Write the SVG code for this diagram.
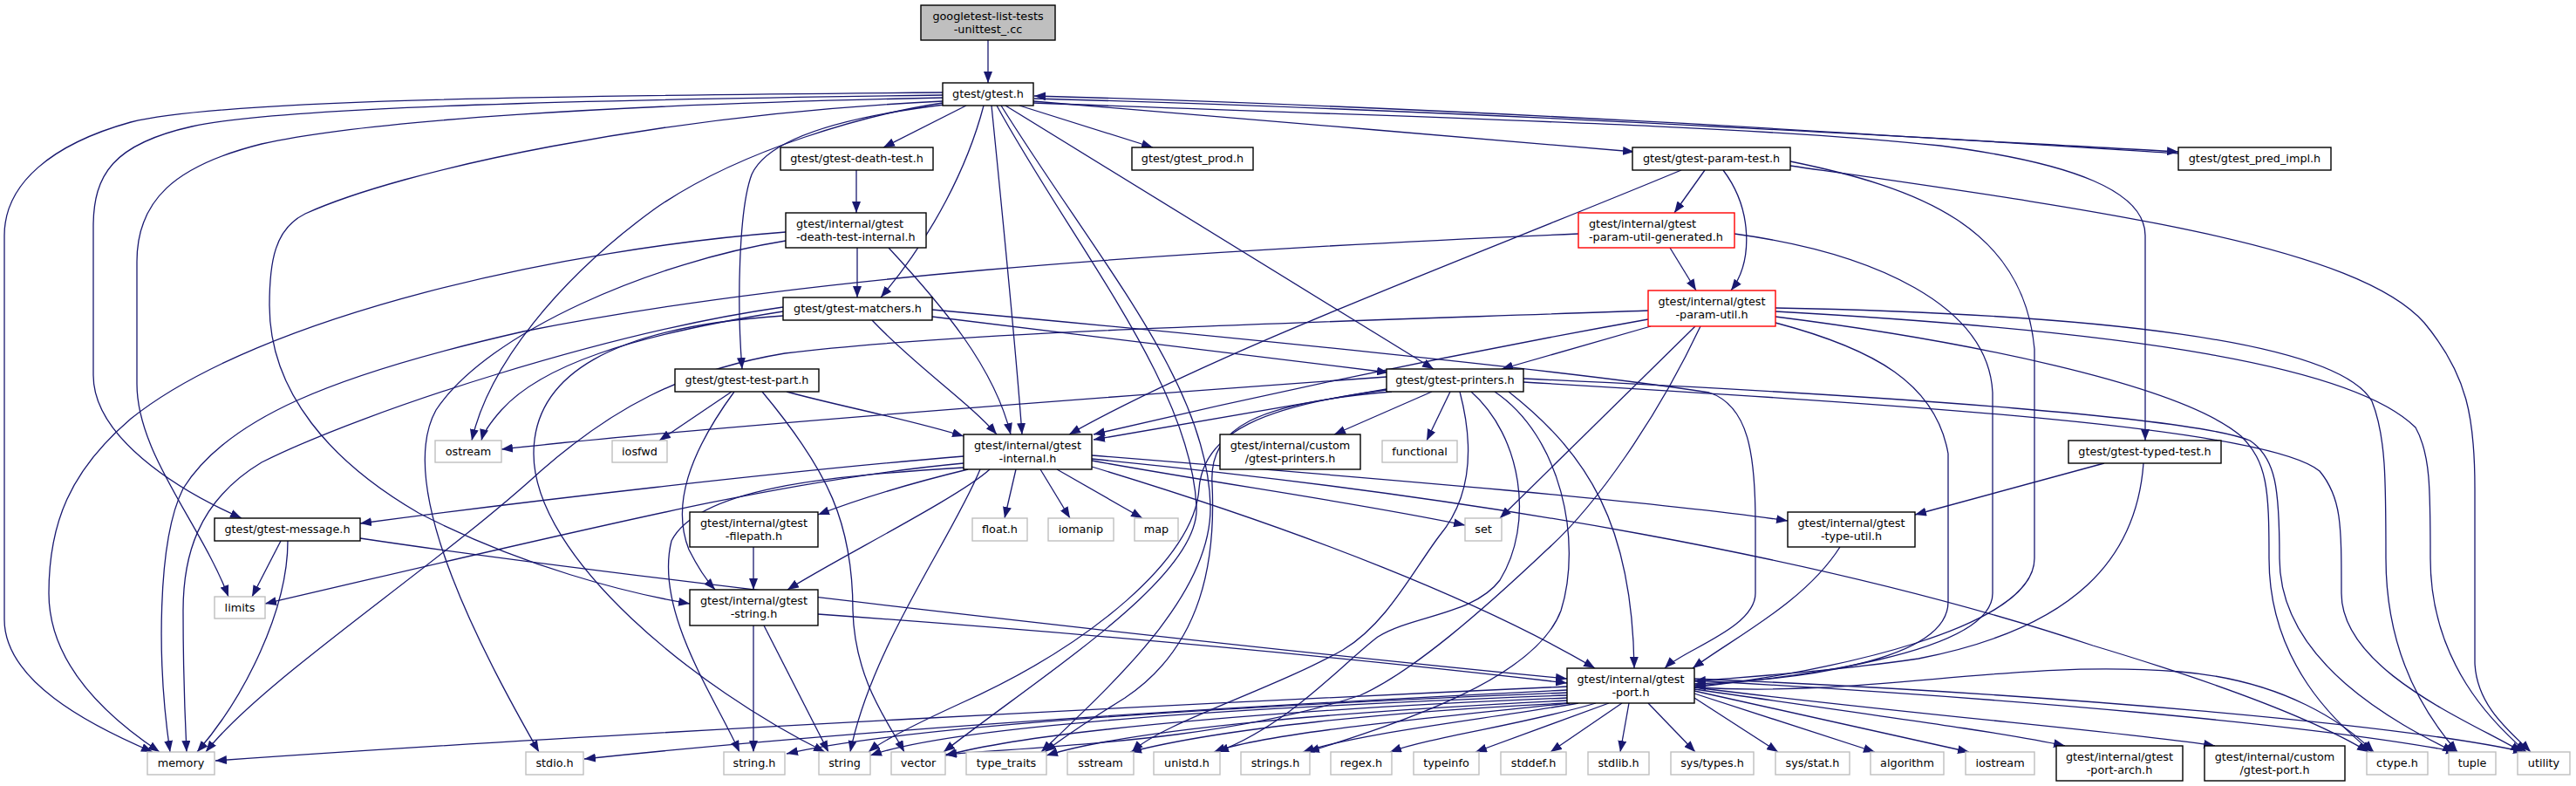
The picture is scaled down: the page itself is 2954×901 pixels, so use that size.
<svg xmlns="http://www.w3.org/2000/svg" width="2954" height="901" viewBox="0 0 2954 901">
<style>
.nd rect{fill:#fff;stroke:#000;stroke-width:1.4}
.nd.x rect{stroke:#bfbfbf}
.nd.r rect{stroke:#f00}
.nd.root rect{fill:#bfbfbf}
text{font-family:"DejaVu Sans","Liberation Sans",sans-serif;font-size:12.8px;fill:#000}
.nd text{text-anchor:middle}
.nd.l text{text-anchor:start}
#edges path{fill:none;stroke:#191970;stroke-width:1.3;marker-end:url(#a)}
</style>
<defs>
<marker id="a" viewBox="0 0 13 10" refX="13" refY="5" markerWidth="13" markerHeight="10" markerUnits="userSpaceOnUse" orient="auto"><path d="M0,0 L13,5 L0,10 z" fill="#191970"/></marker>
</defs>
<rect width="2954" height="901" fill="#fff"/>
<g id="edges">
<path d="M1133,46 L1133,95"/>
<path d="M1108,121 L1013,169"/>
<path d="M1169,121 L1322,169"/>
<path d="M1185,116 C1400,134 1650,155 1874,174"/>
<path d="M1186,113 C1700,127 2200,158 2498,174"/>
<path d="M2498,176 C2200,157 1700,124 1186,110"/>
<path d="M1185,118 C1600,134 2000,143 2225,167 C2380,187 2460,220 2460,270 L2460,505"/>
<path d="M1081,106 C600,110 250,115 150,140 C60,165 5,210 5,270 L5,710 C5,780 100,830 175,862"/>
<path d="M1081,109 C700,114 320,122 220,145 C130,165 107,200 107,260 L107,430 C107,500 200,560 277,594"/>
<path d="M1081,112 C700,120 420,138 300,165 C200,190 157,230 157,300 L157,440 C157,520 230,600 262,684"/>
<path d="M1081,116 C750,132 460,195 350,245 C315,262 309,300 309,350 C309,450 380,530 480,588 C600,650 720,680 791,692"/>
<path d="M1081,118 C1000,130 850,170 750,240 C640,320 560,420 541,505"/>
<path d="M1083,120 C960,135 880,160 862,200 C847,240 845,350 851,423"/>
<path d="M1128,121 C1110,190 1070,270 1010,341"/>
<path d="M1137,121 C1150,250 1165,400 1172,498"/>
<path d="M1153,121 L1644,423"/>
<path d="M1143,121 C1230,280 1365,440 1372,580 C1378,660 1200,770 1082,862"/>
<path d="M1148,121 C1260,300 1385,440 1388,580 C1390,680 1280,780 1194,862"/>
<path d="M982,195 L982,244"/>
<path d="M983,284 L983,341"/>
<path d="M1019,284 C1080,350 1140,420 1159,498"/>
<path d="M901,276 C750,300 560,380 500,470 C450,560 560,760 618,862"/>
<path d="M901,266 C650,285 300,360 150,480 C80,540 56,600 56,680 C56,760 120,820 183,862"/>
<path d="M1955,195 L1920,244"/>
<path d="M1976,195 C2010,240 2010,300 1985,333"/>
<path d="M1928,195 C1700,290 1400,400 1226,498"/>
<path d="M2053,185 C2200,215 2320,260 2333,400 L2333,640 C2333,720 2100,770 1943,788"/>
<path d="M2053,190 C2400,240 2700,280 2780,370 C2830,430 2838,480 2838,560 L2838,760 C2840,810 2880,840 2902,862"/>
<path d="M1915,284 L1945,333"/>
<path d="M1989,268 C2150,290 2280,350 2285,450 L2285,680 C2285,750 2050,778 1943,786"/>
<path d="M1810,268 C1300,290 900,320 600,380 C380,430 260,480 210,560 C180,620 180,760 195,862"/>
<path d="M1069,363 L1592,427"/>
<path d="M1000,367 C1050,420 1110,460 1143,498"/>
<path d="M898,357 C720,385 620,420 575,470 C560,487 554,497 552,505"/>
<path d="M898,352 C700,380 420,470 300,530 C225,575 210,640 210,700 C210,780 212,820 214,862"/>
<path d="M898,362 C700,375 612,430 612,520 C612,640 800,790 946,862"/>
<path d="M1069,355 C1400,385 1800,425 1960,450 C2005,465 2013,520 2013,600 L2013,680 C2013,720 1930,745 1909,766"/>
<path d="M1893,374 L1722,423"/>
<path d="M1890,366 C1700,400 1500,440 1254,498"/>
<path d="M2036,370 C2150,400 2220,440 2234,520 L2234,690 C2234,760 2050,780 1943,784"/>
<path d="M1890,356 C1500,370 1100,380 900,405 C780,425 700,470 620,540 C500,650 300,780 236,862"/>
<path d="M1944,374 L1720,594"/>
<path d="M1950,374 C1900,480 1830,580 1774,630 C1700,700 1620,770 1560,797 C1400,850 1200,855 1084,865"/>
<path d="M2036,363 C2250,390 2500,440 2570,500 C2600,530 2602,560 2602,640 C2602,760 2680,830 2720,862"/>
<path d="M2036,353 C2400,360 2680,390 2720,460 C2736,500 2736,550 2736,640 C2736,760 2790,830 2818,862"/>
<path d="M2036,357 C2450,380 2700,420 2770,490 C2787,520 2787,560 2787,640 C2787,760 2860,830 2897,862"/>
<path d="M839,449 L756,505"/>
<path d="M902,449 C960,465 1040,480 1105,500"/>
<path d="M842,449 C790,520 770,580 790,630 C800,650 810,665 820,676"/>
<path d="M874,449 C950,540 978,600 978,700 C980,780 1020,830 1037,862"/>
<path d="M1590,432 C1200,460 800,490 575,515"/>
<path d="M1590,446 L1254,504"/>
<path d="M1642,449 L1530,498"/>
<path d="M1663,449 L1636,505"/>
<path d="M1590,447 C1450,465 1380,495 1375,560 C1370,640 1250,740 1100,807 C1050,830 1010,850 996,862"/>
<path d="M1596,449 C1440,462 1386,490 1390,555 C1394,640 1380,740 1290,800 C1250,825 1220,845 1198,862"/>
<path d="M1674,449 C1690,510 1688,570 1650,615 C1620,655 1590,715 1540,745 C1460,790 1330,830 1298,862"/>
<path d="M1687,449 C1745,500 1760,600 1720,665 C1690,705 1620,705 1580,730 C1540,760 1480,830 1396,862"/>
<path d="M1714,449 C1790,500 1815,620 1790,700 C1760,780 1600,830 1500,862"/>
<path d="M1730,449 C1820,520 1872,600 1874,766"/>
<path d="M1747,434 C2200,455 2520,480 2580,505 C2610,525 2614,560 2614,640 C2614,760 2750,830 2814,862"/>
<path d="M1747,438 C2200,465 2600,490 2660,540 C2685,570 2685,600 2685,680 C2685,770 2840,830 2892,862"/>
<path d="M1252,535 C1500,610 1700,690 1829,766"/>
<path d="M1105,523 C900,540 600,575 413,600"/>
<path d="M1110,538 C1040,555 990,570 938,590"/>
<path d="M1135,538 C1100,570 960,640 903,676"/>
<path d="M1252,522 C1600,550 1900,575 2050,597"/>
<path d="M1165,538 L1152,594"/>
<path d="M1193,538 L1227,594"/>
<path d="M1212,538 L1310,594"/>
<path d="M1252,528 C1400,555 1550,575 1680,602"/>
<path d="M1105,531 C900,550 700,600 304,692"/>
<path d="M1105,536 C950,545 800,560 770,620 C750,700 820,800 848,862"/>
<path d="M1124,538 C1090,620 1000,740 975,862"/>
<path d="M1252,526 C1700,570 2100,640 2400,740 C2600,800 2680,840 2716,862"/>
<path d="M322,620 L289,684"/>
<path d="M330,620 C330,700 280,800 226,862"/>
<path d="M413,617 C700,660 1400,740 1797,778"/>
<path d="M864,627 L864,676"/>
<path d="M864,717 L864,862"/>
<path d="M876,717 L950,862"/>
<path d="M938,704 C1300,730 1600,760 1797,783"/>
<path d="M2413,531 L2196,590"/>
<path d="M2458,531 C2450,640 2380,720 2200,755 C2100,770 2000,776 1943,781"/>
<path d="M2110,627 C2070,690 1990,730 1941,766"/>
<path d="M1797,787 C1400,805 700,840 247,872"/>
<path d="M1797,791 C1450,808 1000,835 670,870"/>
<path d="M1797,794 C1450,808 1050,830 902,864"/>
<path d="M1797,797 C1450,810 1100,830 998,866"/>
<path d="M1797,800 C1500,812 1200,835 1084,866"/>
<path d="M1797,803 C1550,815 1300,835 1200,866"/>
<path d="M1797,806 C1600,815 1400,835 1296,862"/>
<path d="M1800,806 C1650,822 1450,840 1392,862"/>
<path d="M1810,806 C1700,825 1560,840 1494,862"/>
<path d="M1830,806 C1750,830 1640,845 1594,862"/>
<path d="M1845,806 L1692,862"/>
<path d="M1860,806 L1778,862"/>
<path d="M1868,806 L1858,862"/>
<path d="M1890,806 L1944,862"/>
<path d="M1943,800 L2039,862"/>
<path d="M1943,795 L2150,862"/>
<path d="M1943,792 L2258,862"/>
<path d="M1943,790 C2150,820 2300,840 2368,855"/>
<path d="M1943,788 C2200,820 2450,840 2540,855"/>
<path d="M1943,788 C2150,800 2300,755 2500,770 C2620,780 2690,830 2722,862"/>
<path d="M1943,780 C2300,800 2650,830 2818,862"/>
<path d="M1943,778 C2350,795 2750,830 2895,862"/>
</g>
<g id="n-root" class="nd root"><rect x="1056" y="6" width="154" height="40"/><text x="1133" y="22.9">googletest-list-tests</text><text x="1133" y="37.9">-unittest_.cc</text></g>
<g id="n-gtest" class="nd"><rect x="1081" y="95" width="104" height="26"/><text x="1133" y="112.4">gtest/gtest.h</text></g>
<g id="n-death" class="nd"><rect x="895" y="169" width="175" height="26"/><text x="982.5" y="186.4">gtest/gtest-death-test.h</text></g>
<g id="n-prod" class="nd"><rect x="1298" y="169" width="139" height="26"/><text x="1367.5" y="186.4">gtest/gtest_prod.h</text></g>
<g id="n-ptest" class="nd"><rect x="1872" y="169" width="181" height="26"/><text x="1962.5" y="186.4">gtest/gtest-param-test.h</text></g>
<g id="n-pred" class="nd"><rect x="2498" y="169" width="175" height="26"/><text x="2585.5" y="186.4">gtest/gtest_pred_impl.h</text></g>
<g id="n-dti" class="nd l"><rect x="901" y="244" width="161" height="40"/><text x="913" y="260.9">gtest/internal/gtest</text><text x="913" y="275.9">-death-test-internal.h</text></g>
<g id="n-pug" class="nd l r"><rect x="1810" y="244" width="179" height="40"/><text x="1822" y="260.9">gtest/internal/gtest</text><text x="1822" y="275.9">-param-util-generated.h</text></g>
<g id="n-matchers" class="nd"><rect x="898" y="341" width="171" height="26"/><text x="983.5" y="358.4">gtest/gtest-matchers.h</text></g>
<g id="n-pu" class="nd r"><rect x="1890" y="333" width="146" height="41"/><text x="1963" y="349.9">gtest/internal/gtest</text><text x="1963" y="364.9">-param-util.h</text></g>
<g id="n-testpart" class="nd"><rect x="774" y="423" width="165" height="26"/><text x="856.5" y="440.4">gtest/gtest-test-part.h</text></g>
<g id="n-printers" class="nd"><rect x="1590" y="423" width="157" height="26"/><text x="1668.5" y="440.4">gtest/gtest-printers.h</text></g>
<g id="n-ostream" class="nd x"><rect x="499" y="505" width="76" height="25"/><text x="537" y="521.9">ostream</text></g>
<g id="n-iosfwd" class="nd x"><rect x="702" y="505" width="63" height="25"/><text x="733.5" y="521.9">iosfwd</text></g>
<g id="n-internal" class="nd"><rect x="1105" y="498" width="147" height="40"/><text x="1178.5" y="514.9">gtest/internal/gtest</text><text x="1178.5" y="529.9">-internal.h</text></g>
<g id="n-cprinters" class="nd"><rect x="1399" y="498" width="161" height="40"/><text x="1479.5" y="514.9">gtest/internal/custom</text><text x="1479.5" y="529.9">/gtest-printers.h</text></g>
<g id="n-functional" class="nd x"><rect x="1585" y="505" width="86" height="25"/><text x="1628" y="521.9">functional</text></g>
<g id="n-typed" class="nd"><rect x="2372" y="505" width="175" height="26"/><text x="2459.5" y="522.4">gtest/gtest-typed-test.h</text></g>
<g id="n-message" class="nd"><rect x="246" y="594" width="167" height="26"/><text x="329.5" y="611.4">gtest/gtest-message.h</text></g>
<g id="n-filepath" class="nd"><rect x="791" y="587" width="147" height="40"/><text x="864.5" y="603.9">gtest/internal/gtest</text><text x="864.5" y="618.9">-filepath.h</text></g>
<g id="n-float" class="nd x"><rect x="1115" y="594" width="63" height="26"/><text x="1146.5" y="611.4">float.h</text></g>
<g id="n-iomanip" class="nd x"><rect x="1202" y="594" width="75" height="26"/><text x="1239.5" y="611.4">iomanip</text></g>
<g id="n-map" class="nd x"><rect x="1301" y="594" width="50" height="26"/><text x="1326" y="611.4">map</text></g>
<g id="n-set" class="nd x"><rect x="1680" y="594" width="42" height="26"/><text x="1701" y="611.4">set</text></g>
<g id="n-typeutil" class="nd"><rect x="2050" y="587" width="146" height="40"/><text x="2123" y="603.9">gtest/internal/gtest</text><text x="2123" y="618.9">-type-util.h</text></g>
<g id="n-limits" class="nd x"><rect x="246" y="684" width="58" height="25"/><text x="275" y="700.9">limits</text></g>
<g id="n-gstring" class="nd"><rect x="791" y="676" width="147" height="41"/><text x="864.5" y="692.9">gtest/internal/gtest</text><text x="864.5" y="707.9">-string.h</text></g>
<g id="n-port" class="nd"><rect x="1797" y="766" width="146" height="40"/><text x="1870" y="782.9">gtest/internal/gtest</text><text x="1870" y="797.9">-port.h</text></g>
<g id="n-memory" class="nd x"><rect x="169" y="862" width="77" height="26"/><text x="207.5" y="879.4">memory</text></g>
<g id="n-stdio" class="nd x"><rect x="603" y="862" width="66" height="26"/><text x="636" y="879.4">stdio.h</text></g>
<g id="n-stringh" class="nd x"><rect x="830" y="862" width="70" height="26"/><text x="865" y="879.4">string.h</text></g>
<g id="n-string" class="nd x"><rect x="939" y="862" width="59" height="26"/><text x="968.5" y="879.4">string</text></g>
<g id="n-vector" class="nd x"><rect x="1022" y="862" width="62" height="26"/><text x="1053" y="879.4">vector</text></g>
<g id="n-typetraits" class="nd x"><rect x="1108" y="862" width="92" height="26"/><text x="1154" y="879.4">type_traits</text></g>
<g id="n-sstream" class="nd x"><rect x="1224" y="862" width="76" height="26"/><text x="1262" y="879.4">sstream</text></g>
<g id="n-unistd" class="nd x"><rect x="1323" y="862" width="76" height="26"/><text x="1361" y="879.4">unistd.h</text></g>
<g id="n-strings" class="nd x"><rect x="1423" y="862" width="79" height="26"/><text x="1462.5" y="879.4">strings.h</text></g>
<g id="n-regex" class="nd x"><rect x="1526" y="862" width="70" height="26"/><text x="1561" y="879.4">regex.h</text></g>
<g id="n-typeinfo" class="nd x"><rect x="1621" y="862" width="75" height="26"/><text x="1658.5" y="879.4">typeinfo</text></g>
<g id="n-stddef" class="nd x"><rect x="1721" y="862" width="75" height="26"/><text x="1758.5" y="879.4">stddef.h</text></g>
<g id="n-stdlib" class="nd x"><rect x="1821" y="862" width="70" height="26"/><text x="1856" y="879.4">stdlib.h</text></g>
<g id="n-systypes" class="nd x"><rect x="1916" y="862" width="95" height="26"/><text x="1963.5" y="879.4">sys/types.h</text></g>
<g id="n-sysstat" class="nd x"><rect x="2036" y="862" width="85" height="26"/><text x="2078.5" y="879.4">sys/stat.h</text></g>
<g id="n-algorithm" class="nd x"><rect x="2145" y="862" width="84" height="26"/><text x="2187" y="879.4">algorithm</text></g>
<g id="n-iostream" class="nd x"><rect x="2254" y="862" width="79" height="26"/><text x="2293.5" y="879.4">iostream</text></g>
<g id="n-portarch" class="nd"><rect x="2358" y="855" width="145" height="40"/><text x="2430.5" y="871.9">gtest/internal/gtest</text><text x="2430.5" y="886.9">-port-arch.h</text></g>
<g id="n-customport" class="nd"><rect x="2528" y="855" width="161" height="40"/><text x="2608.5" y="871.9">gtest/internal/custom</text><text x="2608.5" y="886.9">/gtest-port.h</text></g>
<g id="n-ctype" class="nd x"><rect x="2714" y="862" width="70" height="26"/><text x="2749" y="879.4">ctype.h</text></g>
<g id="n-tuple" class="nd x"><rect x="2808" y="862" width="54" height="26"/><text x="2835" y="879.4">tuple</text></g>
<g id="n-utility" class="nd x"><rect x="2887" y="862" width="60" height="26"/><text x="2917" y="879.4">utility</text></g>
</svg>
